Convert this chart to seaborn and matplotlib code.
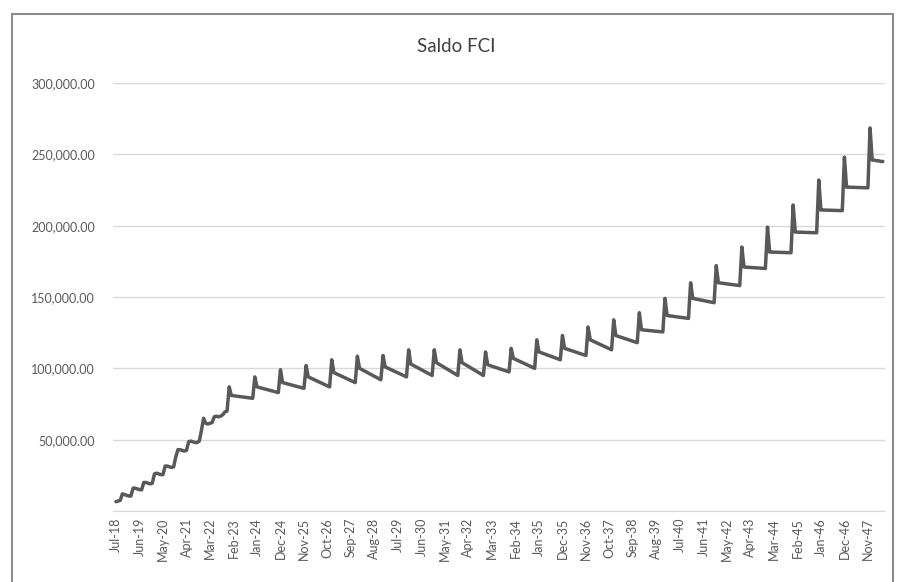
import numpy as np
import pandas as pd
import matplotlib
matplotlib.use("Agg")
import matplotlib.pyplot as plt
import seaborn as sns
from matplotlib.patches import Rectangle
from matplotlib.ticker import FuncFormatter

# monthly balance, thousands, Jul-18 .. Jun-48
saldo_k = [
    6.5, 7.0, 7.5, 12.0, 11.5, 11.0,  # 2018 (Jul-Dec)
    10.5, 10.5, 16.0, 16.0, 15.5, 15.0, 14.8, 20.0, 20.0, 19.5, 19.0, 19.5,  # 2019
    26.0, 26.5, 26.0, 25.5, 25.5, 31.5, 31.5, 31.0, 30.5, 31.0, 38.0, 43.0,  # 2020
    43.0, 42.5, 42.0, 42.5, 48.5, 49.0, 48.5, 48.0, 48.0, 49.0, 56.5, 65.0,  # 2021
    61.5, 61.0, 61.5, 62.0, 66.0, 66.5, 66.0, 66.5, 67.5, 69.5, 70.0, 87.0,  # 2022
    81.0, 80.8, 80.6, 80.4, 80.2, 80.0, 79.8, 79.6, 79.4, 79.2, 79.0, 94.0,  # 2023
    87.0, 86.6, 86.2, 85.8, 85.4, 85.0, 84.6, 84.2, 83.8, 83.4, 83.0, 99.0,  # 2024
    90.0, 89.6, 89.2, 88.8, 88.4, 88.0, 87.6, 87.2, 86.8, 86.4, 86.0, 102.0,  # 2025
    94.0, 93.3, 92.6, 91.9, 91.2, 90.5, 89.8, 89.1, 88.4, 87.7, 87.0, 106.0,  # 2026
    97.0, 96.3, 95.6, 94.9, 94.2, 93.5, 92.8, 92.1, 91.4, 90.7, 90.0, 108.5,  # 2027
    100.0, 99.2, 98.4, 97.6, 96.8, 96.0, 95.2, 94.4, 93.6, 92.8, 92.0, 109.0,  # 2028
    101.0, 100.3, 99.6, 98.9, 98.2, 97.5, 96.8, 96.1, 95.4, 94.7, 94.0, 113.0,  # 2029
    103.0, 102.2, 101.4, 100.6, 99.8, 99.0, 98.2, 97.4, 96.6, 95.8, 95.0, 113.0,  # 2030
    104.0, 103.1, 102.2, 101.3, 100.4, 99.5, 98.6, 97.7, 96.8, 95.9, 95.0, 113.0,  # 2031
    104.0, 103.1, 102.2, 101.3, 100.4, 99.5, 98.6, 97.7, 96.8, 95.9, 95.0, 111.5,  # 2032
    102.5, 102.0, 101.5, 101.0, 100.5, 100.0, 99.5, 99.0, 98.5, 98.0, 97.5, 114.0,  # 2033
    107.0, 106.3, 105.6, 104.9, 104.2, 103.5, 102.8, 102.1, 101.4, 100.7, 100.0, 120.0,  # 2034
    111.5, 111.0, 110.4, 109.9, 109.3, 108.8, 108.2, 107.7, 107.1, 106.6, 106.0, 123.0,  # 2035
    114.0, 113.5, 113.0, 112.5, 112.0, 111.5, 111.0, 110.5, 110.0, 109.5, 109.0, 129.0,  # 2036
    120.0, 119.3, 118.6, 117.9, 117.2, 116.5, 115.8, 115.1, 114.4, 113.7, 113.0, 134.0,  # 2037
    123.0, 122.5, 122.0, 121.5, 121.0, 120.5, 120.0, 119.5, 119.0, 118.5, 118.0, 139.0,  # 2038
    127.0, 126.9, 126.7, 126.6, 126.4, 126.3, 126.1, 126.0, 125.8, 125.7, 125.5, 149.0,  # 2039
    137.0, 136.8, 136.6, 136.4, 136.2, 136.0, 135.8, 135.6, 135.4, 135.2, 135.0, 160.0,  # 2040
    149.0, 148.7, 148.4, 148.1, 147.8, 147.5, 147.2, 146.9, 146.6, 146.3, 146.0, 172.0,  # 2041
    160.0, 159.8, 159.6, 159.4, 159.2, 159.0, 158.8, 158.6, 158.4, 158.2, 158.0, 185.0,  # 2042
    171.0, 170.9, 170.8, 170.7, 170.6, 170.5, 170.4, 170.3, 170.2, 170.1, 170.0, 199.0,  # 2043
    181.5, 181.5, 181.4, 181.4, 181.3, 181.3, 181.2, 181.2, 181.1, 181.1, 181.0, 214.5,  # 2044
    195.5, 195.5, 195.4, 195.4, 195.3, 195.3, 195.2, 195.2, 195.1, 195.1, 195.0, 232.0,  # 2045
    211.0, 211.0, 210.9, 210.9, 210.8, 210.8, 210.7, 210.7, 210.6, 210.6, 210.5, 248.0,  # 2046
    227.0, 227.0, 226.9, 226.9, 226.8, 226.8, 226.7, 226.7, 226.6, 226.6, 226.5, 268.5,  # 2047
    246.0, 246.0, 245.5, 245.5, 245.0, 245.0,  # 2048 (Jan-Jun)
]

tick_labels = [
    "Jul-18", "Jun-19", "May-20", "Apr-21", "Mar-22", "Feb-23", "Jan-24", "Dec-24",
    "Nov-25", "Oct-26", "Sep-27", "Aug-28", "Jul-29", "Jun-30", "May-31", "Apr-32",
    "Mar-33", "Feb-34", "Jan-35", "Dec-35", "Nov-36", "Oct-37", "Sep-38", "Aug-39",
    "Jul-40", "Jun-41", "May-42", "Apr-43", "Mar-44", "Feb-45", "Jan-46", "Dec-46",
    "Nov-47",
]
y_ticks = [50000, 100000, 150000, 200000, 250000, 300000]

df = pd.DataFrame({"mes": np.arange(len(saldo_k)), "saldo": np.array(saldo_k) * 1000})

sns.set_style("white")
plt.rcParams["font.family"] = ["Lato", "DejaVu Sans"]

fig = plt.figure(figsize=(8.97, 5.82), dpi=100)
ax = fig.add_axes([113 / 897, 1 - 511 / 582, (885 - 113) / 897, (511 - 83) / 582])

sns.lineplot(data=df, x="mes", y="saldo", ax=ax, color="#595959", linewidth=2.5)

ax.set_xlim(-1.4, 360)
ax.set_ylim(0, 300000)
ax.set_yticks([0] + y_ticks)
ax.yaxis.set_major_formatter(FuncFormatter(lambda v, p: "" if v == 0 else f"{v:,.2f}"))
ax.set_xticks(np.arange(0, 11 * len(tick_labels), 11))
ax.set_xticklabels(tick_labels, rotation=90)
ax.tick_params(axis="both", length=0, labelsize=9, colors="#595959")
ax.tick_params(axis="y", pad=13)
ax.tick_params(axis="x", pad=5)
ax.grid(axis="y", color="#d9d9d9", linewidth=1)
ax.set_axisbelow(True)
for s in ["top", "right", "left"]:
    ax.spines[s].set_visible(False)
ax.spines["bottom"].set_color("#d9d9d9")
ax.set_xlabel("")
ax.set_ylabel("")

fig.text(456 / 897, 1 - 46 / 582, "Saldo FCI", ha="center", va="center",
         fontsize=13.5, color="#404040")

# chart area frame (screenshot crop)
fig.patches.append(Rectangle((12 / 897, -0.05), (893 - 12) / 897, 1.05 - 14 / 582,
                             transform=fig.transFigure, fill=False,
                             edgecolor="#8c8c8c", linewidth=1.5))

fig.savefig("out.png", dpi=100)
